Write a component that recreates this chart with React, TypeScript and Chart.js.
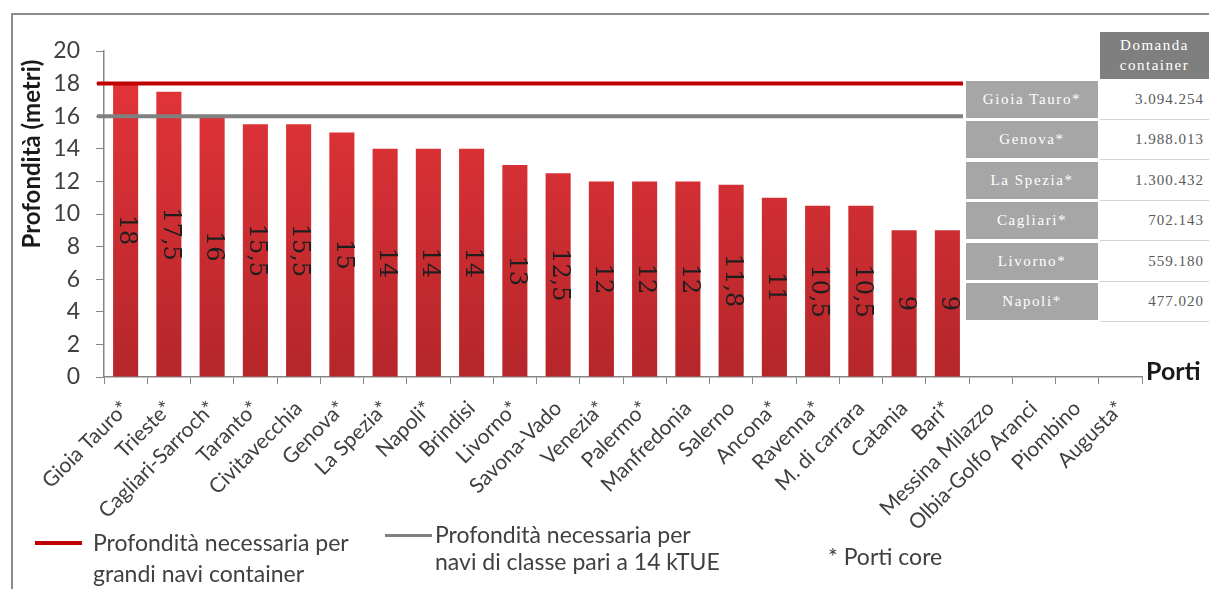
import React, { useEffect, useRef } from 'react';
import { Chart, registerables } from 'chart.js';

Chart.register(...registerables);

// ---------- DATA ----------
const ports: string[] = [
  'Gioia Tauro*', 'Trieste*', 'Cagliari-Sarroch*', 'Taranto*', 'Civitavecchia', 'Genova*',
  'La Spezia*', 'Napoli*', 'Brindisi', 'Livorno*', 'Savona-Vado', 'Venezia*', 'Palermo*',
  'Manfredonia', 'Salerno', 'Ancona*', 'Ravenna*', 'M. di carrara', 'Catania', 'Bari*',
  'Messina Milazzo', 'Olbia-Golfo Aranci', 'Piombino', 'Augusta*',
];
const depths: (number | null)[] = [
  18, 17.5, 16, 15.5, 15.5, 15, 14, 14, 14, 13, 12.5, 12, 12, 12, 11.8, 11, 10.5, 10.5, 9, 9,
  null, null, null, null,
];
const yMin = 0;
const yMax = 20;
const yStep = 2;
const depthLargeShips = 18;
const depth14kTue = 16;

const tableHeader: string[] = ['Domanda', 'container'];
const tablePorts: string[] = ['Gioia Tauro*', 'Genova*', 'La Spezia*', 'Cagliari*', 'Livorno*', 'Napoli*'];
const tableDemand: string[] = ['3.094.254', '1.988.013', '1.300.432', '702.143', '559.180', '477.020'];

const yTitle = 'Profondità (metri)';
const xTitle = 'Porti';
const legendLarge: string[] = ['Profondità necessaria per', 'grandi navi container'];
const legend14k: string[] = ['Profondità necessaria per', 'navi di classe pari a 14 kTUE'];
const noteCore = '* Porti core';

// ---------- STYLE ----------
const SANS = 'Lato, "Noto Sans", sans-serif';
const SERIF = '"Liberation Serif", "DejaVu Serif", serif';
const LABEL_SERIF = '"DejaVu Serif", serif';
const RED_LINE = '#c00000';
const GREY_LINE = '#808080';
const AXIS = '#868686';
const TEXT = '#404040';

const fmt = (v: number) => String(v).replace('.', ',');

const overlayPlugin = {
  id: 'overlayPlugin',
  afterDatasetsDraw(chart: any) {
    const { ctx, chartArea, scales } = chart;
    const y = scales.y;
    ctx.save();
    // threshold lines
    const lines: [number, string][] = [
      [depth14kTue, GREY_LINE],
      [depthLargeShips, RED_LINE],
    ];
    lines.forEach(([v, c]) => {
      const py = y.getPixelForValue(v);
      ctx.beginPath();
      ctx.strokeStyle = c;
      ctx.lineWidth = 4;
      ctx.moveTo(chartArea.left - 7, py);
      ctx.lineTo(chartArea.right, py);
      ctx.stroke();
    });
    // bar value labels
    const meta = chart.getDatasetMeta(0);
    ctx.fillStyle = '#1e1e1e';
    ctx.font = `24px ${LABEL_SERIF}`;
    ctx.textAlign = 'center';
    ctx.textBaseline = 'middle';
    meta.data.forEach((el: any, i: number) => {
      const v = depths[i];
      if (v == null) return;
      const cy = (el.y + el.base) / 2;
      ctx.save();
      ctx.translate(el.x + 1, cy);
      ctx.rotate(Math.PI / 2);
      ctx.fillText(fmt(v), 0, 0);
      ctx.restore();
    });
    // axis titles
    ctx.fillStyle = '#1a1a1a';
    ctx.font = `bold 24px ${SANS}`;
    ctx.save();
    ctx.translate(32, 154);
    ctx.rotate(-Math.PI / 2);
    ctx.textAlign = 'center';
    ctx.textBaseline = 'middle';
    ctx.fillText(yTitle, 0, 0);
    ctx.restore();
    ctx.font = `bold 25px ${SANS}`;
    ctx.textAlign = 'left';
    ctx.textBaseline = 'alphabetic';
    ctx.fillText(xTitle, chartArea.right + 4, chartArea.bottom + 3);
    ctx.restore();
  },
};

export default function App() {
  const ref = useRef<HTMLCanvasElement | null>(null);

  useEffect(() => {
    if (!ref.current) return;
    const chart = new Chart(ref.current, {
      type: 'bar',
      data: {
        labels: ports,
        datasets: [
          {
            data: depths as any,
            backgroundColor: (c: any) => {
              const ca = c.chart.chartArea;
              if (!ca) return '#d63031';
              const g = c.chart.ctx.createLinearGradient(0, ca.top, 0, ca.bottom);
              g.addColorStop(0, '#e6353a');
              g.addColorStop(1, '#b5262a');
              return g;
            },
            borderWidth: 0,
            categoryPercentage: 1,
            barPercentage: 0.58,
          },
        ],
      },
      options: {
        responsive: false,
        animation: false,
        devicePixelRatio: 1,
        layout: { padding: { top: 51, right: 67, left: 0, bottom: 0 } },
        plugins: { legend: { display: false }, tooltip: { enabled: false } },
        scales: {
          x: {
            grid: { display: true, drawOnChartArea: false, drawTicks: true, tickLength: 7, color: AXIS, offset: true },
            border: { display: true, color: AXIS, width: 1.5 },
            ticks: {
              autoSkip: false,
              minRotation: 45,
              maxRotation: 45,
              padding: 12,
              color: TEXT,
              font: { family: SANS, size: 21 },
            },
            afterFit: (s: any) => {
              s.height = 212;
            },
          },
          y: {
            min: yMin,
            max: yMax,
            grid: { display: true, drawOnChartArea: false, drawTicks: true, tickLength: 8, color: AXIS },
            border: { display: true, color: AXIS, width: 1.5 },
            ticks: { stepSize: yStep, padding: 16, color: TEXT, font: { family: SANS, size: 23 } },
            afterFit: (s: any) => {
              s.width = 104;
            },
          },
        },
      },
      plugins: [overlayPlugin],
    });
    return () => chart.destroy();
  }, []);

  const abs = (o: React.CSSProperties): React.CSSProperties => ({ position: 'absolute', ...o });

  return (
    <div style={abs({ left: 0, top: 0, width: 1209, height: 589, overflow: 'hidden', background: '#fff' })}>
      <div style={abs({ left: 11, top: 13, width: 1300, height: 700, borderLeft: '2px solid #8c8c8c', borderTop: '2px solid #8c8c8c' })} />
      <canvas ref={ref} width={1209} height={589} style={abs({ left: 0, top: 0, width: 1209, height: 589 })} />

      {/* data table */}
      <div style={abs({ left: 963, top: 80, width: 246, height: 244, background: '#fff' })} />
      <div
        style={abs({
          left: 1100, top: 32, width: 109, height: 47, background: '#7f7f7f', color: '#fff',
          fontFamily: SERIF, fontSize: 15, letterSpacing: 1.5, lineHeight: '20px', textAlign: 'center',
          paddingTop: 3, boxSizing: 'border-box',
        })}
      >
        {tableHeader.map((t, i) => (
          <div key={i}>{t}</div>
        ))}
      </div>
      {tablePorts.map((p, i) => (
        <React.Fragment key={p}>
          <div
            style={abs({
              left: 966, top: 81 + i * 40.4, width: 132, height: 37, background: '#a6a6a6', color: '#fff',
              fontFamily: SERIF, fontSize: 15, letterSpacing: 1.6, lineHeight: '37px', textAlign: 'center',
            })}
          >
            {p}
          </div>
          <div
            style={abs({
              left: 1100, top: 80 + i * 40.4, width: 109, height: 40, borderBottom: '1px solid #d4d4d4',
              boxSizing: 'border-box', color: '#595959', fontFamily: SERIF, fontSize: 15, letterSpacing: 1,
              lineHeight: '39px', textAlign: 'right', paddingRight: 5,
            })}
          >
            {tableDemand[i]}
          </div>
        </React.Fragment>
      ))}

      {/* legend */}
      <div style={abs({ left: 35, top: 541, width: 47, height: 4, background: RED_LINE })} />
      <div style={abs({ left: 93, top: 527, fontFamily: SANS, fontSize: 23, lineHeight: '31px', color: TEXT, whiteSpace: 'nowrap' })}>
        {legendLarge.map((t, i) => (
          <div key={i}>{t}</div>
        ))}
      </div>
      <div style={abs({ left: 385, top: 534, width: 47, height: 3, background: GREY_LINE })} />
      <div style={abs({ left: 435, top: 521, fontFamily: SANS, fontSize: 23, lineHeight: '27px', color: TEXT, whiteSpace: 'nowrap' })}>
        {legend14k.map((t, i) => (
          <div key={i}>{t}</div>
        ))}
      </div>
      <div style={abs({ left: 828, top: 541, fontFamily: SANS, fontSize: 23, lineHeight: '30px', color: TEXT, whiteSpace: 'nowrap' })}>
        {noteCore}
      </div>
    </div>
  );
}
